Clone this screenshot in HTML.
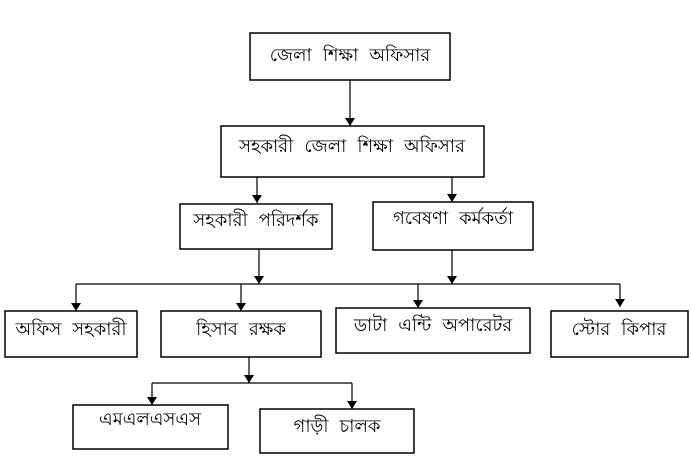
<!DOCTYPE html>
<html><head><meta charset="utf-8"><style>html,body{margin:0;padding:0;background:#fff}svg{display:block}</style></head><body>
<svg width="691" height="463" viewBox="0 0 691 463" xmlns="http://www.w3.org/2000/svg">
<defs>
<marker id="b" viewBox="0 0 8 10" markerWidth="8" markerHeight="10" refX="8" refY="5" orient="auto" markerUnits="userSpaceOnUse"><path d="M0,0 L8,5 L0,10 Z" fill="#000"/></marker></defs>
<g fill="#fff" stroke="#000" stroke-width="1.5">
<rect x="250" y="33" width="200" height="47"/>
<rect x="221" y="126" width="263" height="51"/>
<rect x="180" y="204" width="152" height="45"/>
<rect x="373" y="202" width="160" height="48"/>
<rect x="5" y="311" width="132" height="46"/>
<rect x="161" y="311" width="160" height="46"/>
<rect x="336" y="308" width="194" height="45"/>
<rect x="551" y="311" width="137" height="46"/>
<rect x="73" y="405" width="155" height="44"/>
<rect x="260" y="409" width="154" height="44"/>
</g>
<g stroke="#000" stroke-width="1.2" fill="none">
<line x1="350" y1="80" x2="350" y2="126" marker-end="url(#b)"/>
<line x1="257" y1="177" x2="257" y2="203" marker-end="url(#b)"/>
<line x1="452" y1="177" x2="452" y2="202" marker-end="url(#b)"/>
<line x1="259" y1="249" x2="259" y2="284" marker-end="url(#b)"/>
<line x1="452" y1="250" x2="452" y2="284" marker-end="url(#b)"/>
<line x1="76" y1="284" x2="620" y2="284"/>
<line x1="76" y1="284" x2="76" y2="311" marker-end="url(#b)"/>
<line x1="241" y1="284" x2="241" y2="311" marker-end="url(#b)"/>
<line x1="418" y1="284" x2="418" y2="308" marker-end="url(#b)"/>
<line x1="620" y1="284" x2="620" y2="307" marker-end="url(#b)"/>
<line x1="249" y1="357" x2="249" y2="383" marker-end="url(#b)"/>
<line x1="152" y1="383" x2="352" y2="383"/>
<line x1="152" y1="383" x2="152" y2="405" marker-end="url(#b)"/>
<line x1="352" y1="383" x2="352" y2="409" marker-end="url(#b)"/>
</g>
<g font-family="'Liberation Sans', 'Noto Sans CJK SC', sans-serif" font-size="18" word-spacing="6" text-anchor="middle" fill="#000">
<text x="350" y="61">জেলা শিক্ষা অফিসার</text>
<text x="352" y="152">সহকারী জেলা শিক্ষা অফিসার</text>
<text x="256" y="226">সহকারী পরিদর্শক</text>
<text x="453" y="224">গবেষণা কর্মকর্তা</text>
<text x="71" y="335">অফিস সহকারী</text>
<text x="241" y="335">হিসাব রক্ষক</text>
<text x="433" y="331">ডাটা এন্টি অপারেটর</text>
<text x="619" y="335">স্টোর কিপার</text>
<text x="150" y="425">এমএলএসএস</text>
<text x="337" y="432">গাড়ী চালক</text>
</g>
</svg>
</body></html>
